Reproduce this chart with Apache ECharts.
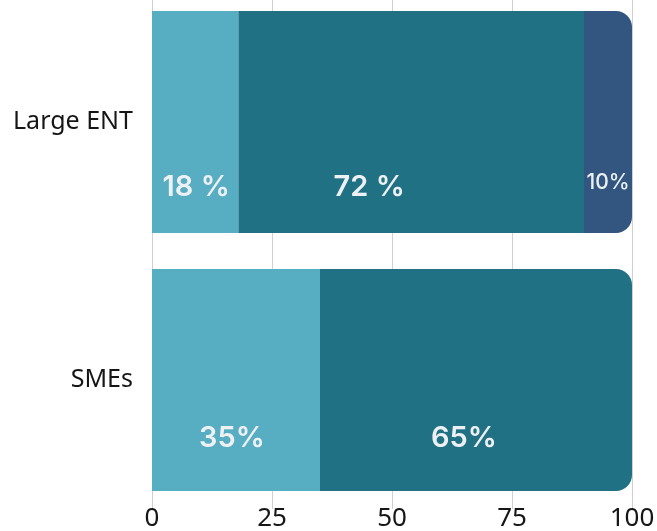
<!DOCTYPE html>
<html>
<head>
<meta charset="utf-8">
<script src="https://cdn.jsdelivr.net/npm/echarts@6/dist/echarts.min.js"></script>
<style>
html,body{margin:0;padding:0;background:#fff;}
#chart{width:657px;height:531px;}
</style>
</head>
<body>
<div id="chart"></div>
<script>
// Data
var categories = ['SMEs', 'Large ENT'];
var seriesNames = ['Segment A', 'Segment B', 'Segment C'];
var segA = [35, 18];
var segB = [65, 72];
var segC = [null, 10];
var labelTexts = [
  ['35%', '18 %'],
  ['65%', '72 %'],
  ['', '10%']
];
var xTicks = [0, 25, 50, 75, 100];

// Styles (not data)
var colors = ['#57adc1', '#217184', '#32567f'];
var labelOffsets = [
  [[-4, 58], [1, 65]],
  [[-12, 58], [-42, 65]],
  [[0, 0], [0, 61]]
];
var labelSizes = [29, 29, 21];
var radius = 16;

var allSeries = [segA, segB, segC];
function lastIndex(catIdx) {
  var last = -1;
  for (var s = 0; s < allSeries.length; s++) {
    if (allSeries[s][catIdx] != null) last = s;
  }
  return last;
}

var series = allSeries.map(function (vals, s) {
  return {
    name: seriesNames[s],
    type: 'bar',
    stack: 'total',
    barWidth: 222,
    itemStyle: { color: colors[s] },
    data: vals.map(function (v, i) {
      var isLast = lastIndex(i) === s;
      return {
        value: v,
        itemStyle: { borderRadius: isLast ? [0, radius, radius, 0] : 0 },
        label: {
          show: v != null,
          position: 'inside',
          offset: labelOffsets[s][i],
          formatter: labelTexts[s][i],
          color: '#eef1f4',
          fontFamily: 'Inter',
          fontWeight: s === 2 ? 500 : 600,
          fontSize: labelSizes[s]
        }
      };
    })
  };
});

var chart = echarts.init(document.getElementById('chart'), null, { renderer: 'canvas' });
chart.setOption({
  animation: false,
  backgroundColor: '#ffffff',
  grid: { left: 152, right: 25, top: -7, bottom: 22, containLabel: false, outerBoundsMode: 'none' },
  xAxis: {
    type: 'value',
    min: 0,
    max: 100,
    interval: 25,
    axisLine: { show: false },
    axisTick: { show: false },
    splitLine: { show: true, lineStyle: { color: '#d0d0d0', width: 1 } },
    axisLabel: {
      margin: -3,
      color: '#161616',
      fontFamily: 'Noto Sans',
      fontSize: 26,
      formatter: function (v) { return xTicks.indexOf(v) >= 0 ? String(v) : ''; }
    }
  },
  yAxis: {
    type: 'category',
    data: categories,
    axisLine: { show: false },
    axisTick: { show: false },
    axisLabel: {
      margin: 19,
      color: '#161616',
      fontFamily: 'Noto Sans',
      fontSize: 25
    }
  },
  series: series
});
</script>
</body>
</html>
